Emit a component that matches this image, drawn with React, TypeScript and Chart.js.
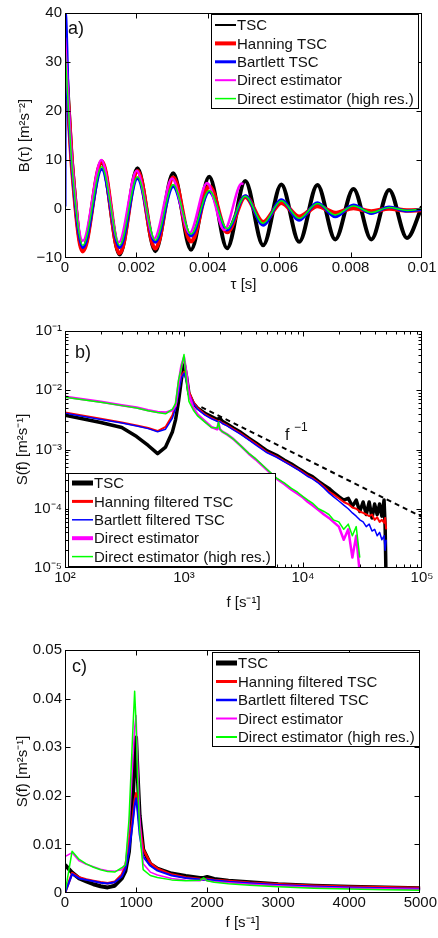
import React, { useEffect, useRef } from 'react';
import { Chart, registerables } from 'chart.js';

Chart.register(...registerables);

const FONT = "'Liberation Sans', Arial, Helvetica, sans-serif";
const FS = 15;
const INK = '#111111';
const COLORS = ['#000000', '#ff0000', '#0000ff', '#ff00ff', '#00ff00'];

const LABELS_A = ['TSC', 'Hanning TSC', 'Bartlett TSC', 'Direct estimator', 'Direct estimator (high res.)'];
const LABELS_BC = ['TSC', 'Hanning filtered TSC', 'Bartlett filtered TSC', 'Direct estimator', 'Direct estimator (high res.)'];

// ---------- panel a) : autocovariance B(tau) ----------
const A_TAU = [0, 0.0001, 0.0002, 0.0005, 0.00103, 0.00153, 0.00203, 0.00253, 0.00303, 0.00353, 0.00404, 0.00454, 0.00505, 0.00555, 0.00606, 0.00656, 0.00707, 0.00757, 0.00808, 0.00858, 0.00908, 0.00958, 0.01];
const A_TSC = [34, 21, 9, -8.3, 9.5, -9.3, 8.3, -8.6, 7.3, -8.3, 6.6, -8.0, 5.7, -7.4, 5.0, -6.7, 4.9, -6.2, 4.1, -6.2, 3.9, -5.9, 0.5];
const A_HAN = [30, 20, 8.5, -8.6, 9.7, -9.0, 7.7, -8.0, 6.4, -6.6, 4.6, -4.7, 2.5, -2.7, 1.3, -1.6, 0.6, -0.8, 0.2, -0.5, 0.1, -0.3, -0.2];
const A_TAU_BAR = [0, 0.00001, 0.0001, 0.0002, 0.0005, 0.00103, 0.00153, 0.00203, 0.00253, 0.00303, 0.00353, 0.00404, 0.00454, 0.00505, 0.00555, 0.00606, 0.00656, 0.00707, 0.00757, 0.00808, 0.00858, 0.00908, 0.00958, 0.01];
const A_BAR = [0.5, 40, 20.5, 8.5, -7.9, 8.1, -7.9, 6.2, -6.8, 4.6, -5.5, 3.5, -4.3, 2.7, -3.3, 1.9, -2.3, 1.3, -1.6, 0.8, -0.9, 0.4, -0.4, -0.1];
const A_TAU_DIR = [0, 0.0001, 0.0002, 0.0005, 0.00102, 0.00151, 0.00201, 0.0025, 0.003, 0.00349, 0.00398, 0.00446, 0.00495, 0.005];
const A_DIR = [35, 21.5, 9.5, -6.5, 10.0, -6.8, 7.8, -6.0, 6.2, -4.9, 5.3, -4.3, 5.2, 5.1];
const A_DHR = [33, 20, 8.5, -7.4, 8.6, -7.4, 6.6, -6.4, 5.0, -5.1, 3.8, -4.0, 2.6, -2.9, 1.7, -1.9, 1.1, -1.2, 0.6, -0.7, 0.3, -0.3, 0];

const A_X_TICKS = [0, 0.002, 0.004, 0.006, 0.008, 0.01];
const A_X_TICK_LABELS = ['0', '0.002', '0.004', '0.006', '0.008', '0.01'];
const A_Y_TICKS = [-10, 0, 10, 20, 30, 40];
const A_Y_TICK_LABELS = ['\u221210', '0', '10', '20', '30', '40'];

// ---------- panel b) : spectra, log-log ----------
const F_B = [100, 200, 300, 400, 500, 600, 700, 800,
  850, 900, 950, 1000, 1050, 1100,
  1200, 1300, 1500, 1700, 1900, 1950, 2000, 2100, 2300, 2600,
  3000, 3500, 4000, 5000, 6000, 7000, 8000, 9000, 10000,
  11000, 12000, 13500, 15000, 16500, 18000,
  20000, 22000, 24000, 26000, 28000, 30000,
  32000, 34000, 36000, 38000, 40000, 42000, 44000, 46000, 48000,
  49000, 50000];
const B_TSC = [3.8e-3, 2.85e-3, 2.35e-3, 1.65e-3, 1.17e-3, 8.5e-4, 1.1e-3, 2.0e-3,
  3.2e-3, 6.5e-3, 1.5e-2, 2.9e-2, 1.7e-2, 8.8e-3,
  6.0e-3, 5.0e-3, 4.1e-3, 3.6e-3, 3.2e-3, 3.3e-3, 3.4e-3, 3.0e-3, 2.7e-3, 2.3e-3,
  1.95e-3, 1.55e-3, 1.3e-3, 9.5e-4, 8.0e-4, 6.6e-4, 5.7e-4, 4.9e-4, 4.3e-4,
  3.8e-4, 3.5e-4, 2.9e-4, 2.5e-4, 2.2e-4, 1.9e-4,
  1.6e-4, 1.4e-4, 1.5e-4, 1.1e-4, 1.4e-4, 0.9e-4,
  1.3e-4, 0.8e-4, 1.3e-4, 0.7e-4, 1.2e-4, 0.8e-4, 1.2e-4, 0.75e-4, 1.4e-4,
  0.5e-4, 5e-6];
const B_HAN = [4.2e-3, 3.3e-3, 2.85e-3, 2.55e-3, 2.3e-3, 2.05e-3, 2.4e-3, 3.8e-3,
  5.5e-3, 1.0e-2, 1.7e-2, 2.05e-2, 1.5e-2, 9.5e-3,
  6.3e-3, 5.0e-3, 3.9e-3, 3.4e-3, 3.05e-3, 3.0e-3, 3.0e-3, 2.8e-3, 2.55e-3, 2.2e-3,
  1.85e-3, 1.5e-3, 1.25e-3, 9.0e-4, 7.6e-4, 6.3e-4, 5.4e-4, 4.7e-4, 4.1e-4,
  3.6e-4, 3.3e-4, 2.8e-4, 2.35e-4, 1.95e-4, 1.75e-4,
  1.5e-4, 1.3e-4, 1.2e-4, 1.05e-4, 1.0e-4, 0.9e-4,
  0.85e-4, 0.8e-4, 0.75e-4, 0.8e-4, 0.65e-4, 0.72e-4, 0.6e-4, 0.65e-4, 0.58e-4,
  0.7e-4, 0.45e-4];
const B_BAR = [4.1e-3, 3.2e-3, 2.8e-3, 2.5e-3, 2.25e-3, 2.0e-3, 2.2e-3, 3.4e-3,
  5.0e-3, 9.0e-3, 1.6e-2, 1.95e-2, 1.4e-2, 8.5e-3,
  6.0e-3, 4.8e-3, 3.8e-3, 3.3e-3, 3.0e-3, 2.95e-3, 2.95e-3, 2.75e-3, 2.5e-3, 2.15e-3,
  1.8e-3, 1.45e-3, 1.2e-3, 8.8e-4, 7.4e-4, 6.2e-4, 5.3e-4, 4.6e-4, 4.0e-4,
  3.5e-4, 3.2e-4, 2.7e-4, 2.25e-4, 1.85e-4, 1.6e-4,
  1.35e-4, 1.15e-4, 1.0e-4, 0.85e-4, 0.75e-4, 0.65e-4,
  0.6e-4, 0.5e-4, 0.55e-4, 0.42e-4, 0.45e-4, 0.35e-4, 0.4e-4, 0.3e-4, 0.35e-4,
  0.2e-4, 0.3e-4];
const B_DIR = [7.8e-3, 6.4e-3, 5.6e-3, 5.1e-3, 4.6e-3, 4.3e-3, 4.2e-3, 4.6e-3,
  5.5e-3, 1.3e-2, 2.6e-2, 3.6e-2, 1.9e-2, 8.5e-3,
  5.0e-3, 3.9e-3, 3.0e-3, 2.4e-3, 2.2e-3, 2.8e-3, 2.2e-3, 2.0e-3, 1.8e-3, 1.5e-3,
  1.15e-3, 8.5e-4, 6.8e-4, 4.5e-4, 3.2e-4, 2.6e-4, 2.1e-4, 1.8e-4, 1.55e-4,
  1.3e-4, 1.15e-4, 0.95e-4, 0.8e-4, 0.7e-4, 0.6e-4,
  0.5e-4, 0.3e-4, 0.45e-4, 0.15e-4, 0.35e-4, 0.08e-4,
  null, null, null, null, null, null, null, null, null,
  null, null];
const B_DHR = [7.6e-3, 6.3e-3, 5.5e-3, 5.0e-3, 4.5e-3, 4.2e-3, 4.0e-3, 4.8e-3,
  6.0e-3, 1.5e-2, 2.4e-2, 4.0e-2, 1.4e-2, 6.5e-3,
  4.6e-3, 3.7e-3, 2.9e-3, 2.35e-3, 2.3e-3, 2.9e-3, 2.2e-3, 2.0e-3, 1.8e-3, 1.5e-3,
  1.15e-3, 8.6e-4, 7.0e-4, 4.6e-4, 3.3e-4, 2.7e-4, 2.2e-4, 1.9e-4, 1.6e-4,
  1.4e-4, 1.25e-4, 1.0e-4, 0.9e-4, 0.8e-4, 0.65e-4,
  0.6e-4, 0.45e-4, 0.55e-4, 0.35e-4, 0.5e-4, 0.15e-4,
  null, null, null, null, null, null, null, null, null,
  null, null];
const B_REF_F = [1400, 100000];
const B_REF_S = [5.2e-3, 7.28e-5];

const B_X_TICKS = [1e2, 1e3, 1e4, 1e5];
const B_X_TICK_LABELS = ['10\u00b2', '10\u00b3', '10\u2074', '10\u2075'];
const B_Y_TICKS = [1e-5, 1e-4, 1e-3, 1e-2, 1e-1];
const B_Y_TICK_LABELS = ['10\u207b\u2075', '10\u207b\u2074', '10\u207b\u00b3', '10\u207b\u00b2', '10\u207b\u00b9'];

// ---------- panel c) : spectra, linear ----------
const F_C = [0, 100, 200, 300, 400, 500, 600, 700, 800,
  850, 900, 950, 980, 1000, 1020, 1050, 1100,
  1200, 1300, 1500, 1700, 1900, 1950, 2000, 2100, 2300, 2600,
  3000, 3500, 4000, 4500, 5000];
const C_TSC = [5.8e-3, 4.2e-3, 3.0e-3, 2.4e-3, 1.8e-3, 1.4e-3, 1.15e-3, 1.5e-3, 3.0e-3,
  4.5e-3, 8.5e-3, 1.8e-2, 2.8e-2, 3.2e-2, 2.5e-2, 1.6e-2, 9.0e-3,
  6.0e-3, 5.0e-3, 4.0e-3, 3.5e-3, 3.1e-3, 3.1e-3, 3.3e-3, 2.9e-3, 2.5e-3, 2.2e-3,
  1.8e-3, 1.5e-3, 1.3e-3, 1.15e-3, 1.0e-3];
const C_HAN = [0, 4.1e-3, 3.2e-3, 2.8e-3, 2.5e-3, 2.2e-3, 2.0e-3, 2.3e-3, 3.8e-3,
  5.5e-3, 1.0e-2, 1.5e-2, 1.9e-2, 2.05e-2, 1.8e-2, 1.4e-2, 9.0e-3,
  6.2e-3, 5.0e-3, 3.8e-3, 3.2e-3, 2.9e-3, 2.85e-3, 2.9e-3, 2.7e-3, 2.45e-3, 2.1e-3,
  1.8e-3, 1.5e-3, 1.3e-3, 1.2e-3, 1.05e-3];
const C_BAR = [0, 3.9e-3, 3.0e-3, 2.7e-3, 2.4e-3, 2.1e-3, 1.95e-3, 2.2e-3, 3.4e-3,
  5.0e-3, 8.5e-3, 1.4e-2, 1.8e-2, 1.95e-2, 1.7e-2, 1.2e-2, 7.5e-3,
  5.6e-3, 4.6e-3, 3.6e-3, 3.1e-3, 2.8e-3, 2.75e-3, 2.8e-3, 2.6e-3, 2.3e-3, 2.0e-3,
  1.65e-3, 1.35e-3, 1.15e-3, 1.0e-3, 0.85e-3];
const C_DIR = [7.5e-3, 8.3e-3, 6.6e-3, 5.9e-3, 5.4e-3, 4.9e-3, 4.6e-3, 4.5e-3, 4.8e-3,
  6.0e-3, 1.3e-2, 2.6e-2, 3.4e-2, 3.65e-2, 2.8e-2, 1.6e-2, 6.0e-3,
  4.3e-3, 3.7e-3, 3.0e-3, 2.6e-3, 2.5e-3, 2.9e-3, 2.5e-3, 2.3e-3, 2.1e-3, 1.8e-3,
  1.5e-3, 1.2e-3, 1.0e-3, 0.85e-3, 0.75e-3];
const C_DHR = [0, 8.6e-3, 6.9e-3, 6.0e-3, 5.3e-3, 4.8e-3, 4.4e-3, 4.3e-3, 5.2e-3,
  5.8e-3, 1.5e-2, 3.2e-2, 4.15e-2, 3.5e-2, 2.4e-2, 1.3e-2, 4.8e-3,
  3.6e-3, 3.2e-3, 2.7e-3, 2.5e-3, 2.6e-3, 3.1e-3, 2.5e-3, 2.2e-3, 1.9e-3, 1.6e-3,
  1.3e-3, 1.0e-3, 0.8e-3, 0.65e-3, 0.55e-3];

const C_X_TICKS = [0, 1000, 2000, 3000, 4000, 5000];
const C_X_TICK_LABELS = ['0', '1000', '2000', '3000', '4000', '5000'];
const C_Y_TICKS = [0, 0.01, 0.02, 0.03, 0.04, 0.05];
const C_Y_TICK_LABELS = ['0', '0.01', '0.02', '0.03', '0.04', '0.05'];

// ---------- plugin: MATLAB-style box, inward ticks, legend, labels ----------
const matlabPlugin: any = {
  id: 'matlab',
  afterDatasetsDraw(chart: any) {
    const { ctx, chartArea: ca, scales } = chart;
    ctx.save();
    ctx.strokeStyle = '#000';
    ctx.lineWidth = 1;
    const L = Math.round(ca.left) + 0.5;
    const R = Math.round(ca.right) - 0.5;
    const T = Math.round(ca.top) + 0.5;
    const B = Math.round(ca.bottom) - 0.5;
    ctx.beginPath();
    const tick = (s: any, values: number[], len: number) => {
      for (const v of values) {
        const p = Math.round(s.getPixelForValue(v)) + 0.5;
        if (s.isHorizontal()) {
          if (p < L - 0.1 || p > R + 0.1) continue;
          ctx.moveTo(p, B); ctx.lineTo(p, B - len);
          ctx.moveTo(p, T); ctx.lineTo(p, T + len);
        } else {
          if (p < T - 0.1 || p > B + 0.1) continue;
          ctx.moveTo(L, p); ctx.lineTo(L + len, p);
          ctx.moveTo(R, p); ctx.lineTo(R - len, p);
        }
      }
    };
    const minorVals = (s: any) => {
      const out: number[] = [];
      const e0 = Math.floor(Math.log10(s.min));
      const e1 = Math.ceil(Math.log10(s.max));
      for (let e = e0; e < e1; e++) for (let k = 2; k <= 9; k++) out.push(k * Math.pow(10, e));
      return out;
    };
    for (const id of ['x', 'y']) {
      const s = scales[id];
      tick(s, s.ticks.map((t: any) => t.value), 5);
      if (s.type === 'logarithmic') tick(s, minorVals(s), 3);
    }
    ctx.stroke();
    ctx.strokeRect(L, T, R - L, B - T);
    ctx.restore();
  },
  afterDraw(chart: any, _args: any, opts: any) {
    const { ctx } = chart;
    ctx.save();
    if (opts.note) {
      const n = opts.note;
      ctx.fillStyle = INK;
      ctx.textBaseline = 'middle';
      ctx.textAlign = 'left';
      ctx.font = `16px ${FONT}`;
      ctx.fillText(n.base, n.x, n.y);
      ctx.font = `12px ${FONT}`;
      ctx.fillText(n.sup, n.x + 9, n.y - 8);
    }
    if (opts.panel) {
      const p = opts.panel;
      ctx.fillStyle = INK;
      ctx.textBaseline = 'middle';
      ctx.textAlign = 'left';
      ctx.font = `18px ${FONT}`;
      ctx.fillText(p.text, p.x, p.y);
    }
    if (opts.legend) {
      const lg = opts.legend;
      ctx.fillStyle = '#ffffff';
      ctx.fillRect(lg.x, lg.y, lg.w, lg.h);
      ctx.strokeStyle = '#000';
      ctx.lineWidth = 1;
      ctx.strokeRect(lg.x + 0.5, lg.y + 0.5, lg.w, lg.h);
      ctx.font = `${FS}px ${FONT}`;
      ctx.textBaseline = 'middle';
      ctx.textAlign = 'left';
      lg.widths.forEach((w: number, i: number) => {
        const ds = chart.data.datasets[i];
        const y = lg.y + lg.first + i * lg.row;
        ctx.strokeStyle = ds.borderColor;
        ctx.lineWidth = w;
        ctx.lineCap = 'butt';
        ctx.beginPath();
        ctx.moveTo(lg.x + 4, y);
        ctx.lineTo(lg.x + 25, y);
        ctx.stroke();
        ctx.fillStyle = INK;
        ctx.fillText(ds.label, lg.x + 26, y + 1);
      });
    }
    ctx.restore();
  },
};
Chart.register(matlabPlugin);

function series(xs: number[], ys: (number | null)[], label: string, color: string, width: number, order: number, extra: any = {}) {
  return {
    label,
    data: xs.map((x, i) => ({ x, y: ys[i] })),
    borderColor: color,
    backgroundColor: color,
    borderWidth: width,
    pointRadius: 0,
    fill: false,
    order,
    borderJoinStyle: 'round',
    spanGaps: false,
    ...extra,
  };
}

function axis(o: any) {
  const font = { family: FONT, size: FS };
  return {
    type: o.type,
    min: o.min,
    max: o.max,
    grid: { display: false, drawTicks: false },
    border: { display: false },
    ticks: {
      font,
      color: INK,
      padding: o.tickPad,
      autoSkip: false,
      maxRotation: 0,
      minRotation: 0,
      callback: (_v: any, i: number) => o.labels[i],
    },
    afterBuildTicks: (s: any) => {
      s.ticks = o.ticks.map((v: number) => ({ value: v }));
    },
    afterFit: (s: any) => {
      if (o.size !== undefined) {
        if (s.isHorizontal()) s.height = o.size;
        else s.width = o.size;
      }
    },
    title: { display: true, text: o.title, font, color: INK, padding: o.titlePad },
  };
}

function baseOptions(o: any) {
  return {
    animation: false,
    responsive: false,
    devicePixelRatio: 1,
    layout: { padding: { left: 0, right: 16, top: o.top, bottom: 0 } },
    plugins: {
      legend: { display: false },
      tooltip: { enabled: false },
      matlab: o.matlab,
    },
    scales: { x: o.x, y: o.y },
  };
}

function configA() {
  const H = 300;
  return {
    type: 'line',
    data: {
      datasets: [
        series(A_TAU, A_TSC, LABELS_A[0], COLORS[0], 4, 5, { cubicInterpolationMode: 'monotone' }),
        series(A_TAU, A_HAN, LABELS_A[1], COLORS[1], 4.5, 4, { cubicInterpolationMode: 'monotone' }),
        series(A_TAU_BAR, A_BAR, LABELS_A[2], COLORS[2], 3, 3, { cubicInterpolationMode: 'monotone' }),
        series(A_TAU_DIR, A_DIR, LABELS_A[3], COLORS[3], 2.5, 2, { cubicInterpolationMode: 'monotone' }),
        series(A_TAU, A_DHR, LABELS_A[4], COLORS[4], 1.5, 1, { cubicInterpolationMode: 'monotone' }),
      ],
    },
    options: baseOptions({
      top: 13,
      x: axis({ type: 'linear', min: 0, max: 0.01, ticks: A_X_TICKS, labels: A_X_TICK_LABELS, title: '\u03c4 [s]', tickPad: 1, titlePad: { top: 0, bottom: 6 }, size: H - 258 }),
      y: axis({ type: 'linear', min: -10, max: 40, ticks: A_Y_TICKS, labels: A_Y_TICK_LABELS, title: 'B(\u03c4) [m\u00b2s\u207b\u00b2]', tickPad: 3, titlePad: { top: 16, bottom: 0 }, size: 65 }),
      matlab: {
        panel: { text: 'a)', x: 68, y: 29 },
        legend: { x: 211, y: 14, w: 207, h: 94, first: 11, row: 18.4, widths: [2, 4, 3, 2, 1.5] },
      },
    }),
  };
}

function configB() {
  const H = 320;
  return {
    type: 'line',
    data: {
      datasets: [
        series(F_B, B_TSC, LABELS_BC[0], COLORS[0], 3.5, 5),
        series(F_B, B_HAN, LABELS_BC[1], COLORS[1], 2, 4),
        series(F_B, B_BAR, LABELS_BC[2], COLORS[2], 1.5, 3),
        series(F_B, B_DIR, LABELS_BC[3], COLORS[3], 2.5, 2),
        series(F_B, B_DHR, LABELS_BC[4], COLORS[4], 1.5, 1),
        series(B_REF_F, B_REF_S, 'f\u207b\u00b9 slope', '#000000', 2, 0, { borderDash: [5, 4] }),
      ],
    },
    options: baseOptions({
      top: 31,
      x: axis({ type: 'logarithmic', min: 1e2, max: 1e5, ticks: B_X_TICKS, labels: B_X_TICK_LABELS, title: 'f [s\u207b\u00b9]', tickPad: 1, titlePad: { top: 0, bottom: 8 }, size: H - 268 }),
      y: axis({ type: 'logarithmic', min: 1e-5, max: 1e-1, ticks: B_Y_TICKS, labels: B_Y_TICK_LABELS, title: 'S(f) [m\u00b2s\u207b\u00b9]', tickPad: 3, titlePad: { top: 14, bottom: 0 }, size: 65 }),
      matlab: {
        panel: { text: 'b)', x: 75, y: 53 },
        note: { base: 'f', sup: '\u22121', x: 285, y: 136 },
        legend: { x: 68, y: 173, w: 207, h: 93, first: 10, row: 18.4, widths: [5, 3, 1.5, 4, 1.5] },
      },
    }),
  };
}

function configC() {
  const H = 318;
  return {
    type: 'line',
    data: {
      datasets: [
        series(F_C, C_TSC, LABELS_BC[0], COLORS[0], 4, 5),
        series(F_C, C_HAN, LABELS_BC[1], COLORS[1], 2.5, 4),
        series(F_C, C_BAR, LABELS_BC[2], COLORS[2], 2, 3),
        series(F_C, C_DIR, LABELS_BC[3], COLORS[3], 1.5, 2),
        series(F_C, C_DHR, LABELS_BC[4], COLORS[4], 1.5, 1),
      ],
    },
    options: baseOptions({
      top: 30,
      x: axis({ type: 'linear', min: 0, max: 5000, ticks: C_X_TICKS, labels: C_X_TICK_LABELS, title: 'f [s\u207b\u00b9]', tickPad: 1, titlePad: { top: 0, bottom: 6 }, size: H - 273 }),
      y: axis({ type: 'linear', min: 0, max: 0.05, ticks: C_Y_TICKS, labels: C_Y_TICK_LABELS, title: 'S(f) [m\u00b2s\u207b\u00b9]', tickPad: 3, titlePad: { top: 14, bottom: 0 }, size: 65 }),
      matlab: {
        panel: { text: 'c)', x: 72, y: 47 },
        legend: { x: 212, y: 32, w: 207, h: 94, first: 11, row: 18.5, widths: [5, 3, 2.5, 2, 2] },
      },
    }),
  };
}

function Panel({ top, height, build }: { top: number; height: number; build: () => any }) {
  const ref = useRef<HTMLCanvasElement | null>(null);
  useEffect(() => {
    if (!ref.current) return;
    const chart = new Chart(ref.current, build());
    return () => chart.destroy();
  }, []);
  return (
    <canvas
      ref={ref}
      width={438}
      height={height}
      style={{ position: 'absolute', left: 0, top, width: 438, height, display: 'block' }}
    />
  );
}

export default function App() {
  return (
    <div style={{ position: 'absolute', left: 0, top: 0, width: 438, height: 938, background: '#ffffff', overflow: 'hidden' }}>
      <Panel top={0} height={300} build={configA} />
      <Panel top={300} height={320} build={configB} />
      <Panel top={620} height={318} build={configC} />
    </div>
  );
}
